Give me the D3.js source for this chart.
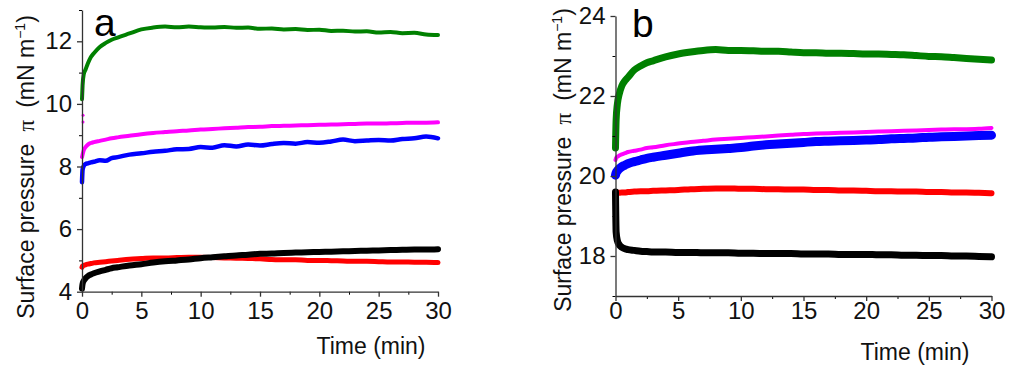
<!DOCTYPE html>
<html>
<head>
<meta charset="utf-8">
<script src="https://cdn.jsdelivr.net/npm/d3@7"></script>
<style>
  body { margin: 0; background: #fff; }
  svg { display: block; font-family: "Liberation Sans", Arial, sans-serif; }
</style>
</head>
<body>
<div id="chart"></div>
<script>
// Time points (min), shared by every series
const timeMin = [0, 0.05, 0.15, 0.3, 0.5, 0.75, 1, 1.5, 2, 2.5, 3, 4, 5, 6, 7, 8, 9, 10, 11, 12, 13, 14, 15,
  16, 17, 18, 19, 20, 21, 22, 23, 24, 25, 26, 27, 28, 29, 30];

// Panel a, surface pressure (mN/m)
const aGreen = [10.15, 10.6, 10.95, 11.1, 11.3, 11.5, 11.62, 11.82, 11.95, 12.05, 12.12, 12.25, 12.38, 12.44, 12.47, 12.45,
  12.47, 12.45, 12.44, 12.46, 12.43, 12.44, 12.40, 12.41, 12.38, 12.39, 12.36, 12.37, 12.33, 12.34, 12.31, 12.32,
  12.28, 12.30, 12.26, 12.27, 12.22, 12.2];
const aMagenta = [8.3, 8.38, 8.52, 8.62, 8.7, 8.75, 8.78, 8.82, 8.86, 8.9, 8.93, 8.98, 9.03, 9.07, 9.1, 9.13, 9.15,
  9.18, 9.2, 9.22, 9.24, 9.26, 9.27, 9.29, 9.3, 9.31, 9.32, 9.33, 9.34, 9.35, 9.36, 9.37, 9.37, 9.38, 9.39, 9.4, 9.4, 9.41];
// the two isolated first readings of the magenta trace (t = 0)
const aMagentaStart = [9.64, 9.42];
const aBlue = [7.5, 7.9, 8.02, 8.08, 8.1, 8.13, 8.15, 8.2, 8.18, 8.27, 8.3, 8.38, 8.42, 8.47, 8.5, 8.55, 8.56, 8.62,
  8.6, 8.68, 8.64, 8.7, 8.67, 8.72, 8.75, 8.73, 8.78, 8.76, 8.8, 8.86, 8.81, 8.83, 8.85, 8.83, 8.88, 8.9, 8.96, 8.9];
const aRed = [4.78, 4.82, 4.84, 4.86, 4.88, 4.9, 4.92, 4.94, 4.96, 4.98, 5.0, 5.04, 5.06, 5.08, 5.08, 5.09, 5.1, 5.1,
  5.09, 5.08, 5.07, 5.06, 5.05, 5.03, 5.02, 5.02, 5.0, 5.0, 4.99, 4.98, 4.97, 4.97, 4.96, 4.95, 4.95, 4.94, 4.94, 4.93];
const aBlack = [4.1, 4.25, 4.35, 4.43, 4.5, 4.55, 4.59, 4.65, 4.7, 4.75, 4.78, 4.84, 4.88, 4.93, 4.97, 5.0, 5.03, 5.07,
  5.1, 5.13, 5.16, 5.18, 5.21, 5.22, 5.24, 5.25, 5.26, 5.27, 5.28, 5.29, 5.3, 5.31, 5.32, 5.33, 5.34, 5.35, 5.35, 5.36];

// Panel b, surface pressure (mN/m)
const bGreen = [20.7, 21.4, 21.8, 22.05, 22.25, 22.38, 22.47, 22.65, 22.75, 22.83, 22.88, 22.98, 23.05, 23.1, 23.14,
  23.16, 23.14, 23.14, 23.13, 23.12, 23.12, 23.1, 23.08, 23.08, 23.07, 23.07, 23.06, 23.05, 23.05, 23.04, 23.03,
  23.01, 22.99, 22.98, 22.96, 22.94, 22.92, 22.9];
const bMagenta = [20.4, 20.45, 20.48, 20.51, 20.54, 20.57, 20.6, 20.63, 20.66, 20.7, 20.72, 20.77, 20.81, 20.85, 20.88,
  20.91, 20.93, 20.95, 20.97, 20.99, 21.01, 21.03, 21.05, 21.06, 21.07, 21.08, 21.09, 21.1, 21.11, 21.12, 21.13,
  21.14, 21.15, 21.16, 21.17, 21.17, 21.18, 21.2];
const bBlue = [20.02, 20.08, 20.13, 20.18, 20.23, 20.27, 20.31, 20.36, 20.4, 20.44, 20.47, 20.52, 20.57, 20.62, 20.65,
  20.67, 20.69, 20.71, 20.75, 20.78, 20.8, 20.82, 20.84, 20.86, 20.87, 20.88, 20.89, 20.9, 20.91, 20.93, 20.94,
  20.95, 20.97, 20.98, 20.99, 21.0, 21.01, 21.02];
const bRed = [19.56, 19.57, 19.58, 19.58, 19.59, 19.59, 19.6, 19.61, 19.62, 19.62, 19.63, 19.64, 19.65, 19.67, 19.68,
  19.69, 19.69, 19.68, 19.68, 19.67, 19.67, 19.66, 19.66, 19.65, 19.65, 19.64, 19.64, 19.63, 19.62, 19.62, 19.61,
  19.61, 19.6, 19.6, 19.59, 19.59, 19.58, 19.57];
const bBlack = [19.6, 18.6, 18.38, 18.28, 18.22, 18.18, 18.16, 18.14, 18.12, 18.11, 18.1, 18.1, 18.09, 18.09, 18.08,
  18.08, 18.08, 18.07, 18.07, 18.06, 18.06, 18.06, 18.05, 18.05, 18.05, 18.04, 18.04, 18.04, 18.03, 18.03, 18.02,
  18.02, 18.01, 18.01, 18.0, 18.0, 17.99, 17.98];

// Tick values
const xMajor = [0, 5, 10, 15, 20, 25, 30];
const xMinor = [2.5, 7.5, 12.5, 17.5, 22.5, 27.5];
const aYMajor = [4, 6, 8, 10, 12];
const aYMinor = [5, 7, 9, 11, 13];
const bYMajor = [18, 20, 22, 24];
const bYMinor = [17, 19, 21, 23];

const width = 1024, height = 372;

const svg = d3.select("#chart").append("svg")
  .attr("width", width)
  .attr("height", height)
  .attr("viewBox", [0, 0, width, height]);

function drawPanel(opt) {
  const x = d3.scaleLinear().domain([0, 30]).range(opt.xRange);
  const y = d3.scaleLinear().domain(opt.yDomain).range(opt.yRange);
  const g = svg.append("g");

  // series first, axes on top
  const line = d3.line()
    .x((d, i) => x(timeMin[i]))
    .y(d => y(d))
    .curve(d3.curveMonotoneX);

  opt.series.forEach(s => {
    g.append("path")
      .datum(s.values)
      .attr("fill", "none")
      .attr("stroke", s.color)
      .attr("stroke-width", s.width)
      .attr("stroke-linejoin", "round")
      .attr("stroke-linecap", "round")
      .attr("d", line);
  });

  // loose points at t = 0
  (opt.dots || []).forEach(s => {
    g.selectAll(null)
      .data(s.values)
      .join("circle")
      .attr("cx", x(0) + 1)
      .attr("cy", d => y(d))
      .attr("r", 1.5)
      .attr("fill", s.color);
  });

  // minor ticks
  g.append("g")
    .attr("transform", `translate(0,${opt.yRange[0]})`)
    .call(d3.axisBottom(x).tickValues(xMinor).tickSize(3).tickFormat(""))
    .call(a => a.select(".domain").remove());
  g.append("g")
    .attr("transform", `translate(${opt.xRange[0]},0)`)
    .call(d3.axisLeft(y).tickValues(opt.yMinor).tickSize(3).tickFormat(""))
    .call(a => a.select(".domain").remove());

  // major axes
  const xAxis = g.append("g")
    .attr("transform", `translate(0,${opt.yRange[0]})`)
    .call(d3.axisBottom(x).tickValues(xMajor).tickSize(5).tickSizeOuter(0)
      .tickPadding(opt.xPad).tickFormat(d3.format("d")));
  const yAxis = g.append("g")
    .attr("transform", `translate(${opt.xRange[0]},0)`)
    .call(d3.axisLeft(y).tickValues(opt.yMajor).tickSize(5).tickSizeOuter(0)
      .tickPadding(5).tickFormat(d3.format("d")));

  [xAxis, yAxis].forEach(a => {
    a.selectAll("path, line").attr("stroke", "#333").attr("stroke-width", 1.3);
    a.selectAll("text").attr("font-size", 24).attr("fill", "#111")
      .attr("font-family", "'Liberation Sans', Arial, sans-serif");
  });

  // axis titles
  g.append("text")
    .attr("x", opt.xTitle[0])
    .attr("y", opt.xTitle[1])
    .attr("text-anchor", "middle")
    .attr("font-size", 23)
    .attr("fill", "#111")
    .text("Time (min)");

  const yt = g.append("text")
    .attr("transform", `translate(${opt.yTitle[0]},${opt.yTitle[1]}) rotate(-90)`)
    .attr("text-anchor", "middle")
    .attr("font-size", 23)
    .attr("fill", "#111");
  yt.append("tspan").text("Surface pressure ");
  yt.append("tspan").attr("font-family", "'Liberation Serif', 'Times New Roman', serif").text("\u00a0\u03c0\u00a0");
  yt.append("tspan").text(" (mN m");
  yt.append("tspan").attr("font-size", 14).attr("dy", -9).text("\u22121");
  yt.append("tspan").attr("dy", 9).text(")");

  // panel letter
  g.append("text")
    .attr("x", opt.letter[0])
    .attr("y", opt.letter[1])
    .attr("font-size", 39)
    .attr("fill", "#000")
    .text(opt.letterText);
}

drawPanel({
  xRange: [82, 438],
  yDomain: [4, 13],
  yRange: [291.7, 10],
  yMajor: aYMajor,
  yMinor: aYMinor,
  xPad: 5,
  xTitle: [371, 354],
  yTitle: [34, 167],
  letter: [94, 36],
  letterText: "a",
  series: [
    { values: aGreen, color: "#008000", width: 4 },
    { values: aMagenta, color: "#ff00ff", width: 4 },
    { values: aBlue, color: "#0000ff", width: 4.5 },
    { values: aRed, color: "#ff0000", width: 5 },
    { values: aBlack, color: "#000000", width: 6 }
  ],
  dots: [{ values: aMagentaStart, color: "#ff00ff" }]
});

drawPanel({
  xRange: [615.5, 991.5],
  yDomain: [17, 24],
  yRange: [296, 16],
  yMajor: bYMajor,
  yMinor: bYMinor,
  xPad: 1,
  xTitle: [915, 360],
  yTitle: [571, 160],
  letter: [632, 37],
  letterText: "b",
  series: [
    { values: bGreen, color: "#008000", width: 7 },
    { values: bBlue, color: "#0000ff", width: 9 },
    { values: bMagenta, color: "#ff00ff", width: 4 },
    { values: bRed, color: "#ff0000", width: 6 },
    { values: bBlack, color: "#000000", width: 7 }
  ]
});
</script>
</body>
</html>
